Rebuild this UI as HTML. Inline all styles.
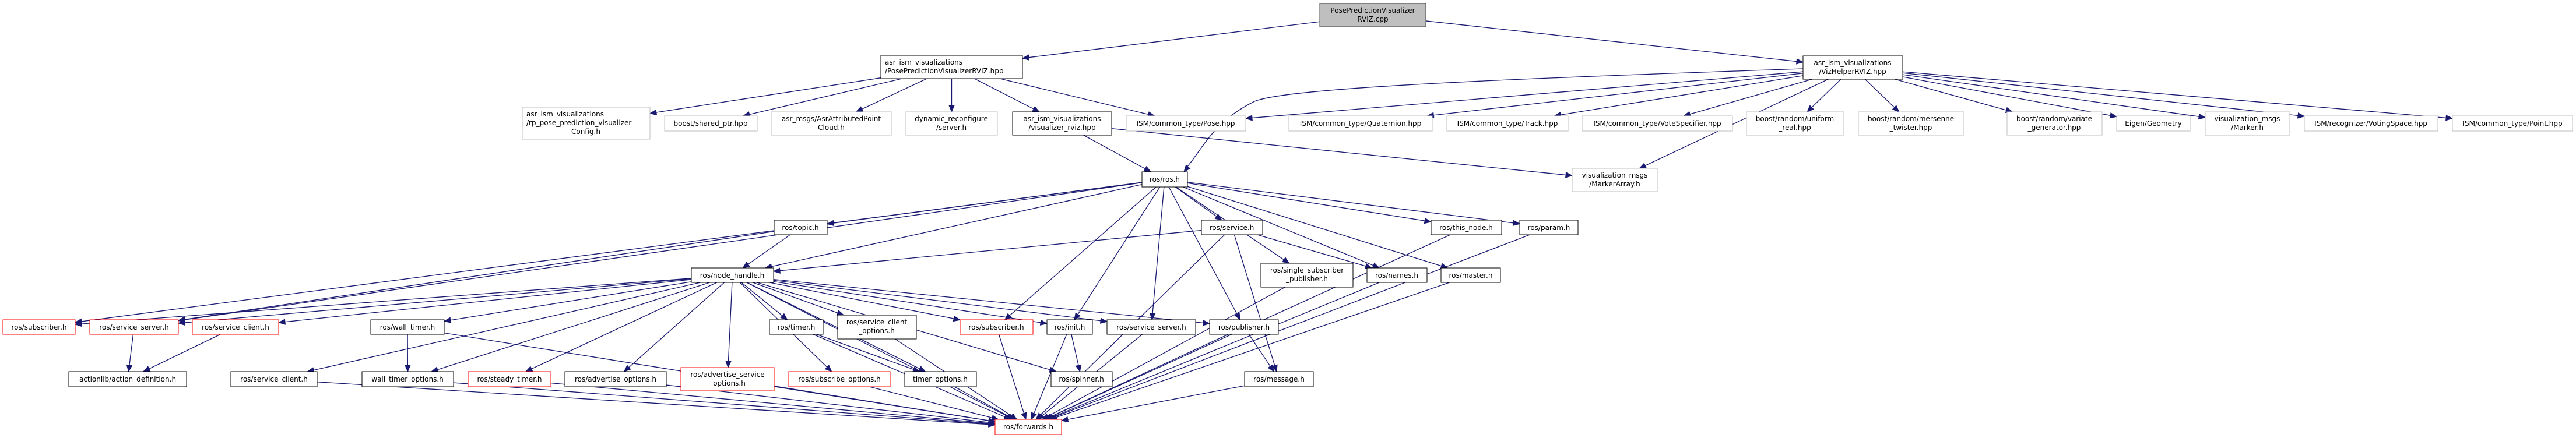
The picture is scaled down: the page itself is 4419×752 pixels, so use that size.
<!DOCTYPE html>
<html><head><meta charset="utf-8"><style>
html,body{margin:0;padding:0;background:#fff;}
svg{display:block;}
text{font-family:"DejaVu Sans","Liberation Sans",sans-serif;font-size:12px;fill:#000;}
</style></head><body>
<svg id="g" width="4419" height="752" viewBox="0 0 4419 752" xmlns="http://www.w3.org/2000/svg">
<g id="edges" stroke="#191970" stroke-width="1.3" fill="none"></g>
<g id="arrows" fill="#191970" stroke="#191970"></g>
<g id="nodes">
<rect x="2264" y="6" width="182" height="40" fill="#bfbfbf" stroke="#404040"/>
<text x="2355" y="22" text-anchor="middle">PosePredictionVisualizer</text>
<text x="2355" y="37" text-anchor="middle">RVIZ.cpp</text>

<rect x="1511" y="95" width="243" height="40" fill="#fff" stroke="#000"/>
<text x="1518" y="111">asr_ism_visualizations</text>
<text x="1518" y="126">/PosePredictionVisualizerRVIZ.hpp</text>

<rect x="3093" y="96" width="171" height="40" fill="#fff" stroke="#000"/>
<text x="3178" y="112" text-anchor="middle">asr_ism_visualizations</text>
<text x="3178" y="127" text-anchor="middle">/VizHelperRVIZ.hpp</text>

<rect x="896" y="184" width="219" height="55" fill="#fff" stroke="#bfbfbf"/>
<text x="903" y="200">asr_ism_visualizations</text>
<text x="903" y="215">/rp_pose_prediction_visualizer</text>
<text x="1005" y="230" text-anchor="middle">Config.h</text>

<rect x="1140" y="199" width="159" height="26" fill="#fff" stroke="#bfbfbf"/>
<text x="1219" y="216" text-anchor="middle">boost/shared_ptr.hpp</text>
<rect x="1323" y="192" width="206" height="40" fill="#fff" stroke="#bfbfbf"/>
<text x="1426" y="208" text-anchor="middle">asr_msgs/AsrAttributedPoint</text>
<text x="1426" y="223" text-anchor="middle">Cloud.h</text>
<rect x="1554" y="192" width="157" height="40" fill="#fff" stroke="#bfbfbf"/>
<text x="1632" y="208" text-anchor="middle">dynamic_reconfigure</text>
<text x="1632" y="223" text-anchor="middle">/server.h</text>
<rect x="1737" y="192" width="170" height="40" fill="#fff" stroke="#000"/>
<text x="1822" y="208" text-anchor="middle">asr_ism_visualizations</text>
<text x="1822" y="223" text-anchor="middle">/visualizer_rviz.hpp</text>
<rect x="1932" y="199" width="205" height="26" fill="#fff" stroke="#bfbfbf"/>
<text x="2034" y="216" text-anchor="middle">ISM/common_type/Pose.hpp</text>
<rect x="2211" y="199" width="246" height="26" fill="#fff" stroke="#bfbfbf"/>
<text x="2334" y="216" text-anchor="middle">ISM/common_type/Quaternion.hpp</text>
<rect x="2482" y="199" width="208" height="26" fill="#fff" stroke="#bfbfbf"/>
<text x="2586" y="216" text-anchor="middle">ISM/common_type/Track.hpp</text>
<rect x="2714" y="199" width="258" height="26" fill="#fff" stroke="#bfbfbf"/>
<text x="2843" y="216" text-anchor="middle">ISM/common_type/VoteSpecifier.hpp</text>
<rect x="2996" y="192" width="167" height="40" fill="#fff" stroke="#bfbfbf"/>
<text x="3079" y="208" text-anchor="middle">boost/random/uniform</text>
<text x="3079" y="223" text-anchor="middle">_real.hpp</text>
<rect x="3188" y="192" width="181" height="40" fill="#fff" stroke="#bfbfbf"/>
<text x="3278" y="208" text-anchor="middle">boost/random/mersenne</text>
<text x="3278" y="223" text-anchor="middle">_twister.hpp</text>
<rect x="3443" y="192" width="163" height="40" fill="#fff" stroke="#bfbfbf"/>
<text x="3524" y="208" text-anchor="middle">boost/random/variate</text>
<text x="3524" y="223" text-anchor="middle">_generator.hpp</text>
<rect x="3631" y="199" width="126" height="26" fill="#fff" stroke="#bfbfbf"/>
<text x="3694" y="216" text-anchor="middle">Eigen/Geometry</text>
<rect x="3783" y="192" width="145" height="40" fill="#fff" stroke="#bfbfbf"/>
<text x="3855" y="208" text-anchor="middle">visualization_msgs</text>
<text x="3855" y="223" text-anchor="middle">/Marker.h</text>
<rect x="3953" y="199" width="229" height="26" fill="#fff" stroke="#bfbfbf"/>
<text x="4067" y="216" text-anchor="middle">ISM/recognizer/VotingSpace.hpp</text>
<rect x="4207" y="199" width="206" height="26" fill="#fff" stroke="#bfbfbf"/>
<text x="4310" y="216" text-anchor="middle">ISM/common_type/Point.hpp</text>

<rect x="1959" y="295" width="78" height="26" fill="#fff" stroke="#000"/>
<text x="1998" y="312" text-anchor="middle">ros/ros.h</text>
<rect x="2697" y="289" width="146" height="40" fill="#fff" stroke="#bfbfbf"/>
<text x="2770" y="305" text-anchor="middle">visualization_msgs</text>
<text x="2770" y="320" text-anchor="middle">/MarkerArray.h</text>

<rect x="1328" y="378" width="91" height="25" fill="#fff" stroke="#000"/>
<text x="1373" y="395" text-anchor="middle">ros/topic.h</text>
<rect x="2061" y="378" width="105" height="25" fill="#fff" stroke="#000"/>
<text x="2113" y="395" text-anchor="middle">ros/service.h</text>
<rect x="2455" y="378" width="121" height="25" fill="#fff" stroke="#000"/>
<text x="2515" y="395" text-anchor="middle">ros/this_node.h</text>
<rect x="2607" y="378" width="100" height="25" fill="#fff" stroke="#000"/>
<text x="2657" y="395" text-anchor="middle">ros/param.h</text>

<rect x="1186" y="460" width="141" height="25" fill="#fff" stroke="#000"/>
<text x="1256" y="477" text-anchor="middle">ros/node_handle.h</text>
<rect x="2163" y="452" width="158" height="41" fill="#fff" stroke="#000"/>
<text x="2242" y="468" text-anchor="middle">ros/single_subscriber</text>
<text x="2242" y="483" text-anchor="middle">_publisher.h</text>
<rect x="2345" y="460" width="103" height="25" fill="#fff" stroke="#000"/>
<text x="2396" y="477" text-anchor="middle">ros/names.h</text>
<rect x="2472" y="460" width="102" height="25" fill="#fff" stroke="#000"/>
<text x="2523" y="477" text-anchor="middle">ros/master.h</text>

<rect x="5" y="549" width="124" height="25" fill="#fff" stroke="#ff0000"/>
<text x="67" y="566" text-anchor="middle">ros/subscriber.h</text>
<rect x="154" y="549" width="152" height="25" fill="#fff" stroke="#ff0000"/>
<text x="230" y="566" text-anchor="middle">ros/service_server.h</text>
<rect x="330" y="549" width="148" height="25" fill="#fff" stroke="#ff0000"/>
<text x="404" y="566" text-anchor="middle">ros/service_client.h</text>
<rect x="636" y="549" width="126" height="25" fill="#fff" stroke="#000"/>
<text x="699" y="566" text-anchor="middle">ros/wall_timer.h</text>
<rect x="1320" y="549" width="92" height="25" fill="#fff" stroke="#000"/>
<text x="1366" y="566" text-anchor="middle">ros/timer.h</text>
<rect x="1437" y="541" width="135" height="41" fill="#fff" stroke="#000"/>
<text x="1504" y="557" text-anchor="middle">ros/service_client</text>
<text x="1504" y="572" text-anchor="middle">_options.h</text>
<rect x="1647" y="549" width="125" height="25" fill="#fff" stroke="#ff0000"/>
<text x="1709" y="566" text-anchor="middle">ros/subscriber.h</text>
<rect x="1796" y="549" width="78" height="25" fill="#fff" stroke="#000"/>
<text x="1835" y="566" text-anchor="middle">ros/init.h</text>
<rect x="1899" y="549" width="152" height="25" fill="#fff" stroke="#000"/>
<text x="1975" y="566" text-anchor="middle">ros/service_server.h</text>
<rect x="2075" y="549" width="118" height="25" fill="#fff" stroke="#000"/>
<text x="2134" y="566" text-anchor="middle">ros/publisher.h</text>

<rect x="118" y="638" width="202" height="26" fill="#fff" stroke="#000"/>
<text x="219" y="655" text-anchor="middle">actionlib/action_definition.h</text>
<rect x="396" y="638" width="148" height="26" fill="#fff" stroke="#000"/>
<text x="470" y="655" text-anchor="middle">ros/service_client.h</text>
<rect x="621" y="638" width="157" height="26" fill="#fff" stroke="#000"/>
<text x="699" y="655" text-anchor="middle">wall_timer_options.h</text>
<rect x="803" y="638" width="142" height="26" fill="#fff" stroke="#ff0000"/>
<text x="874" y="655" text-anchor="middle">ros/steady_timer.h</text>
<rect x="969" y="638" width="174" height="26" fill="#fff" stroke="#000"/>
<text x="1056" y="655" text-anchor="middle">ros/advertise_options.h</text>
<rect x="1168" y="631" width="160" height="40" fill="#fff" stroke="#ff0000"/>
<text x="1248" y="647" text-anchor="middle">ros/advertise_service</text>
<text x="1248" y="662" text-anchor="middle">_options.h</text>
<rect x="1353" y="638" width="174" height="26" fill="#fff" stroke="#ff0000"/>
<text x="1440" y="655" text-anchor="middle">ros/subscribe_options.h</text>
<rect x="1552" y="638" width="123" height="26" fill="#fff" stroke="#000"/>
<text x="1613" y="655" text-anchor="middle">timer_options.h</text>
<rect x="1803" y="638" width="105" height="26" fill="#fff" stroke="#000"/>
<text x="1855" y="655" text-anchor="middle">ros/spinner.h</text>
<rect x="2135" y="638" width="118" height="26" fill="#fff" stroke="#000"/>
<text x="2194" y="655" text-anchor="middle">ros/message.h</text>

<rect x="1707" y="720" width="114" height="26" fill="#fff" stroke="#ff0000"/>
<text x="1764" y="737" text-anchor="middle">ros/forwards.h</text>
</g>
</svg>
<script>
var N={
root:[2264,6,182,40],ppv:[1511,95,243,40],viz:[3093,96,171,40],
rp:[896,184,219,55],sp:[1140,199,159,26],asr:[1323,192,206,40],dyn:[1554,192,157,40],vr:[1737,192,170,40],
pose:[1932,199,205,26],quat:[2211,199,246,26],track:[2482,199,208,26],vote:[2714,199,258,26],uni:[2996,192,167,40],
mer:[3188,192,181,40],vari:[3443,192,163,40],eig:[3631,199,126,26],mark:[3783,192,145,40],vs:[3953,199,229,26],pt:[4207,199,206,26],
ros:[1959,295,78,26],ma:[2697,289,146,40],topic:[1328,378,91,25],svc:[2061,378,105,25],tn:[2455,378,121,25],param:[2607,378,100,25],
nh:[1186,460,141,25],ssp:[2163,452,158,41],names:[2345,460,103,25],master:[2472,460,102,25],
subL:[5,549,124,25],ssL:[154,549,152,25],scR:[330,549,148,25],wt:[636,549,126,25],timer:[1320,549,92,25],sco:[1437,541,135,41],
subR:[1647,549,125,25],init:[1796,549,78,25],ssR:[1899,549,152,25],pub:[2075,549,118,25],
act:[118,638,202,26],sc:[396,638,148,26],wto:[621,638,157,26],st:[803,638,142,26],ao:[969,638,174,26],aso:[1168,631,160,40],
so:[1353,638,174,26],to:[1552,638,123,26],spin:[1803,638,105,26],msg:[2135,638,118,26],fw:[1707,720,114,26]};
var E=[["root","ppv"],["root","viz"],
["ppv","rp"],["ppv","sp"],["ppv","asr"],["ppv","dyn"],["ppv","vr"],["ppv","pose"],
["viz","pose"],["viz","quat"],["viz","track"],["viz","vote"],["viz","uni"],["viz","mer"],["viz","vari"],["viz","eig"],["viz","mark"],["viz","vs"],["viz","pt"],["viz","ma"],
["vr","ros"],["vr","ma"],
["ros","subL"],["ros","ssL"],["ros","topic"],["ros","nh"],["ros","svc"],["ros","subR"],["ros","init"],["ros","ssR"],["ros","pub"],["ros","ssp"],["ros","names"],["ros","master"],["ros","tn"],["ros","param"],
["topic","nh"],["topic","ssL"],
["svc","nh"],["svc","names"],["svc","msg"],["svc","fw"],
["ssp","fw"],["names","fw"],["master","fw"],["tn","fw"],["param","fw"],
["nh","subL"],["nh","ssL"],["nh","scR"],["nh","sc"],["nh","wt"],["nh","wto"],["nh","st"],["nh","ao"],["nh","aso"],["nh","so"],["nh","timer"],["nh","sco"],["nh","to"],["nh","subR"],["nh","init"],["nh","ssR"],["nh","pub"],["nh","fw"],["nh","spin"],
["ssL","act"],["scR","act"],["wt","wto"],["wt","fw"],
["sc","fw"],["wto","fw"],["st","fw"],["ao","fw"],["aso","fw"],["so","fw"],["to","fw"],["timer","to"],["timer","fw"],["sco","fw"],["subR","fw"],
["init","spin"],["init","fw"],["ssR","fw"],["pub","msg"],["pub","fw"],["msg","fw"]];
function clip(b,qx,qy){
 var cx=b[0]+b[2]/2,cy=b[1]+b[3]/2,dx=qx-cx,dy=qy-cy,t=1e9;
 if(dx!==0)t=Math.min(t,(b[2]/2)/Math.abs(dx));
 if(dy!==0)t=Math.min(t,(b[3]/2)/Math.abs(dy));
 return [cx+dx*t,cy+dy*t];}
var eg=document.getElementById('edges'),ag=document.getElementById('arrows'),ns='http://www.w3.org/2000/svg';
function draw(d,t,px,py){
 var p=document.createElementNS(ns,'path');p.setAttribute('d',d);eg.appendChild(p);
 var dx=t[0]-px,dy=t[1]-py,L=Math.sqrt(dx*dx+dy*dy),ux=dx/L,uy=dy/L,al=11,aw=4.5,ex=t[0]-ux*al,ey=t[1]-uy*al;
 var h=document.createElementNS(ns,'polygon');
 h.setAttribute('points',t[0]+','+t[1]+' '+(ex-uy*aw)+','+(ey+ux*aw)+' '+(ex+uy*aw)+','+(ey-ux*aw));ag.appendChild(h);}
E.forEach(function(e){var a=N[e[0]],b=N[e[1]];
 var acx=a[0]+a[2]/2,acy=a[1]+a[3]/2,bcx=b[0]+b[2]/2,bcy=b[1]+b[3]/2;
 var s=clip(a,bcx,bcy),t=clip(b,acx,acy);
 var dx=t[0]-s[0],dy=t[1]-s[1],L=Math.sqrt(dx*dx+dy*dy);
 var ex=t[0]-dx/L*10,ey=t[1]-dy/L*10;
 draw('M'+s[0]+','+s[1]+'L'+ex+','+ey,t,s[0],s[1]);});
// special curved edge VizHelper -> ros.h
draw('M3093,118 C2600,135 2200,150 2150,175 C2080,210 2060,260 2036,287',[2031,295],2040,284);
</script>
</body></html>
